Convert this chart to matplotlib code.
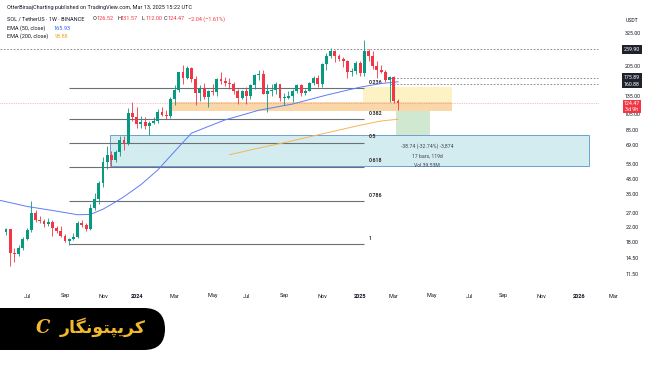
import matplotlib
matplotlib.use("Agg")
import matplotlib.pyplot as plt
import matplotlib.dates as mdates
import pandas as pd
from matplotlib.patches import Rectangle, FancyBboxPatch
from matplotlib.transforms import blended_transform_factory

plt.rcParams["font.family"] = ["Roboto", "DejaVu Sans"]

# SOL / USDT weekly candles (Binance)
FIRST_WEEK = "2023-05-29"
OPEN = [20.8, 21.6, 15.6, 15.3, 16.6, 19.0, 21.4, 27.0, 24.6, 24.1,
        23.2, 24.0, 22.0, 21.1, 19.7, 18.4, 18.9, 19.5, 23.6, 22.9,
        21.7, 28.8, 32.8, 40.9, 55.0, 60.3, 56.5, 63.0, 74.0, 70.5,
        108.0, 101.5, 93.0, 94.5, 89.5, 93.5, 97.0, 110.0, 105.5, 103.0,
        131.0, 148.0, 189.0, 176.0, 202.0, 172.0, 142.0, 153.0, 135.0, 146.0,
        144.0, 172.0, 167.0, 164.0, 160.0, 146.0, 132.0, 146.0, 137.0, 158.0,
        182.0, 185.0, 140.0, 146.0, 148.0, 160.0, 133.0, 133.0, 137.0, 146.0,
        158.0, 143.0, 147.0, 163.0, 176.0, 162.0, 212.0, 236.0, 253.0, 236.0,
        228.0, 221.0, 190.0, 192.0, 216.0, 188.0, 255.0, 238.0, 205.0, 195.0,
        190.0, 170.0, 178.0, 126.52]
HIGH = [21.9, 21.8, 16.6, 17.4, 19.4, 22.0, 32.1, 28.0, 26.0, 25.0,
        25.2, 24.6, 22.7, 22.5, 20.2, 19.2, 20.4, 24.3, 24.7, 23.4,
        30.5, 35.5, 41.9, 58.5, 68.2, 64.0, 65.0, 78.0, 78.0, 115.0,
        126.1, 117.0, 104.0, 102.5, 96.5, 102.0, 114.0, 117.5, 113.0, 135.0,
        158.0, 191.0, 210.0, 205.0, 204.0, 180.0, 158.0, 163.0, 148.0, 160.0,
        176.0, 189.0, 178.0, 176.0, 165.0, 150.0, 149.0, 154.0, 160.0, 185.0,
        194.0, 195.0, 162.0, 160.0, 165.0, 162.0, 142.0, 146.0, 150.0, 160.0,
        160.0, 150.0, 166.0, 180.0, 182.0, 215.0, 248.0, 264.0, 256.0, 245.0,
        233.0, 225.0, 201.0, 220.0, 222.0, 295.0, 261.0, 255.0, 222.0, 210.0,
        196.0, 180.0, 180.0, 131.57]
LOW = [19.9, 13.0, 13.8, 15.0, 16.2, 18.6, 20.9, 24.0, 23.5, 22.3,
       22.7, 19.6, 20.6, 19.3, 18.1, 17.4, 18.6, 19.1, 22.4, 21.0,
       21.4, 28.0, 30.6, 38.5, 50.0, 51.7, 55.0, 59.5, 64.5, 69.0,
       97.0, 88.0, 87.5, 86.0, 79.5, 92.0, 93.5, 104.0, 99.0, 101.0,
       120.0, 145.0, 160.0, 172.0, 165.0, 120.0, 128.0, 131.0, 117.0, 138.0,
       137.0, 160.0, 157.0, 150.0, 140.0, 122.0, 130.0, 122.0, 130.0, 150.0,
       170.0, 140.0, 110.0, 136.0, 140.0, 127.0, 121.0, 130.0, 126.0, 143.0,
       136.0, 138.0, 146.0, 158.0, 155.0, 155.0, 195.0, 230.0, 218.0, 220.0,
       203.0, 175.0, 181.0, 185.0, 180.0, 180.0, 222.0, 198.0, 175.0, 188.0,
       165.0, 125.0, 124.0, 112.0]
CLOSE = [21.6, 15.6, 15.3, 16.6, 19.0, 21.4, 27.0, 24.6, 24.1, 23.2,
         24.0, 22.0, 21.1, 19.7, 18.4, 18.9, 19.5, 23.6, 22.9, 21.7,
         28.8, 32.8, 40.9, 55.0, 60.3, 56.5, 63.0, 74.0, 70.5, 108.0,
         101.5, 93.0, 94.5, 89.5, 93.5, 97.0, 110.0, 105.5, 103.0, 131.0,
         148.0, 189.0, 176.0, 202.0, 172.0, 142.0, 153.0, 135.0, 146.0, 144.0,
         172.0, 167.0, 164.0, 160.0, 146.0, 132.0, 146.0, 137.0, 158.0, 182.0,
         185.0, 140.0, 146.0, 148.0, 160.0, 133.0, 133.0, 137.0, 146.0, 158.0,
         143.0, 147.0, 163.0, 176.0, 162.0, 212.0, 236.0, 253.0, 236.0, 228.0,
         221.0, 190.0, 192.0, 216.0, 188.0, 255.0, 238.0, 205.0, 195.0, 190.0,
         170.0, 178.0, 126.5, 124.47]

# moving averages, sampled off the chart
EMA50_DATES = ["2023-05-19", "2023-07-03", "2023-08-14", "2023-09-25", "2023-10-16",
               "2023-11-06", "2023-11-27", "2023-12-11", "2024-01-08", "2024-02-05",
               "2024-03-11", "2024-04-01", "2024-04-29", "2024-05-27", "2024-07-22",
               "2024-09-16", "2024-11-11", "2025-01-06", "2025-02-10", "2025-03-10"]
EMA50 = [32.2, 29.6, 28.0, 26.4, 26.5, 28.5, 31.5, 33.9, 40.0, 49.0,
         67.5, 81.5, 89.5, 98.0, 112.0, 122.0, 138.0, 154.0, 162.0, 165.93]
EMA200_DATES = ["2024-06-03", "2024-07-15", "2024-09-02", "2024-10-14",
                "2024-11-25", "2025-01-06", "2025-02-10", "2025-03-10"]
EMA200 = [60.5, 65.5, 71.5, 77.5, 84.0, 91.0, 96.5, 98.88]

# fibonacci retracement (low Sep 2023 -> high Jan 2025)
FIB_LABELS = ["0.236", "0.382", "0.5", "0.618", "0.786", "1"]
FIB_PRICES = [151.7, 99.2, 71.5, 51.3, 31.9, 17.6]
FIB_SPAN = ["2023-09-11", "2025-01-13"]

# shaded zones: (start, end, low, high)
ZONE_CYAN = ("2023-11-18", "2026-01-21", 51.8, 79.6)
ZONE_ORANGE = ("2024-02-28", "2025-06-07", 110.8, 125.6)
ZONE_YELLOW = ("2025-01-11", "2025-06-07", 125.6, 154.5)
ZONE_GREEN = ("2025-03-06", "2025-05-02", 79.6, 110.8)
RANGE_TEXT = ["-38.74 (-32.74%) -3,874", "17 bars, 119d", "Vol 39.53M"]
RANGE_TEXT_Y = [68.2, 59.2, 51.8]

AXIS_PRICES = [325, 205, 135, 105, 85, 69, 53, 43, 35, 27, 22, 18, 14.5, 11.5]
LINE_PRICES = [259.90, 175.89, 160.88]
LINE_STARTS = ["2023-05-19", "2025-02-24", "2025-02-24"]
LAST_PRICE = 124.47

TICK_DATES = ["2023-07-03", "2023-09-04", "2023-11-06", "2024-01-01", "2024-03-04",
              "2024-05-06", "2024-07-01", "2024-09-02", "2024-11-04", "2025-01-06",
              "2025-03-03", "2025-05-05", "2025-07-07", "2025-09-01", "2025-11-03",
              "2026-01-05", "2026-03-02"]
TICK_LABELS = ["Jul", "Sep", "Nov", "2024", "Mar", "May", "Jul", "Sep", "Nov", "2025",
               "Mar", "May", "Jul", "Sep", "Nov", "2026", "Mar"]

BRAND = "کریپتونگار"

UP, DOWN = "#089981", "#f23645"
TEXT = "#131722"


def d(s):
    return mdates.date2num(pd.Timestamp(s))


def shape_persian(word):
    # matplotlib does no Arabic shaping: pick joined forms, then reverse
    forms = {"ک": "\ufb8e\ufb8f\ufb90\ufb91", "ر": "\ufead\ufeae",
             "ی": "\ufbfc\ufbfd\ufbfe\ufbff", "پ": "\ufb56\ufb57\ufb58\ufb59",
             "ت": "\ufe95\ufe96\ufe97\ufe98", "و": "\ufeed\ufeee",
             "ن": "\ufee5\ufee6\ufee7\ufee8", "گ": "\ufb92\ufb93\ufb94\ufb95",
             "ا": "\ufe8d\ufe8e"}
    out = []
    for i, ch in enumerate(word):
        prev = i > 0 and len(forms[word[i - 1]]) == 4
        nxt = i < len(word) - 1 and len(forms[ch]) == 4
        out.append(forms[ch][int(prev) + 2 * int(nxt)])
    return "".join(reversed(out))


fig = plt.figure(figsize=(6.5, 3.65), dpi=100)
fig.patch.set_facecolor("white")
ax = fig.add_axes([0, 0, 1, 1])
ax.set_yscale("log")
origin = d("2024-01-01")
ax.set_xlim(origin - 227.0, origin + 852.5)
ax.set_ylim(3.304, 514.2)
ax.set_axis_off()

x = mdates.date2num(pd.date_range(FIRST_WEEK, periods=len(OPEN), freq="7D"))
colors = [UP if c >= o else DOWN for o, c in zip(OPEN, CLOSE)]

# zones
for (s, e, lo, hi), fc, ec in [(ZONE_CYAN, "#d3ecef", "#6f9fd8"),
                               (ZONE_ORANGE, "#f9d7a8", "none"),
                               (ZONE_YELLOW, "#fdf2c4", "none"),
                               (ZONE_GREEN, "#cfe8cf", "none")]:
    ax.add_patch(Rectangle((d(s), lo), d(e) - d(s), hi - lo, facecolor=fc,
                           edgecolor=ec, lw=0.7, zorder=1))

# fib levels
for lab, p in zip(FIB_LABELS, FIB_PRICES):
    ax.hlines(p, d(FIB_SPAN[0]), d(FIB_SPAN[1]), color="#6b6f7a", lw=0.8, zorder=2)
    ax.annotate(lab, (d(FIB_SPAN[1]), p), xytext=(3, 2.5), textcoords="offset points",
                fontsize=3.8, color="#333333", fontweight="bold", va="bottom")

# horizontal price lines
right_edge = origin + (598 - 136.7) / 0.6021
for p, s in zip(LINE_PRICES, LINE_STARTS):
    ax.hlines(p, d(s), right_edge, color="#787b86", lw=0.6, linestyles=(0, (2, 2)), zorder=2)
ax.hlines(LAST_PRICE, ax.get_xlim()[0], right_edge, color=DOWN, lw=0.5,
          linestyles=(0, (1, 1.5)), alpha=0.6, zorder=2)

# EMAs
ax.plot([d(s) for s in EMA50_DATES], EMA50, color="#5c7cfa", lw=0.7, zorder=3)
ax.plot([d(s) for s in EMA200_DATES], EMA200, color="#f7b553", lw=0.7, zorder=3)

# candles
ax.vlines(x, LOW, HIGH, colors=colors, lw=0.6, zorder=4)
bottoms = [min(o, c) for o, c in zip(OPEN, CLOSE)]
heights = [max(abs(c - o), 0.004 * c) for o, c in zip(OPEN, CLOSE)]
ax.bar(x, heights, bottom=bottoms, width=4.8, color=colors, zorder=5)

# range tool text
for t, p in zip(RANGE_TEXT, RANGE_TEXT_Y):
    ax.text(d("2025-04-27"), p, t, fontsize=3.7, color="#434651", ha="center", va="center", zorder=6)

# price axis labels
yb = blended_transform_factory(ax.transAxes, ax.transData)
for p in AXIS_PRICES:
    ax.text(632.5 / 650, p, f"{p:.2f}", transform=yb, fontsize=3.8, color=TEXT,
            ha="center", va="center")
for p in LINE_PRICES:
    ax.text(632 / 650, p, f"{p:.2f}", transform=yb, fontsize=3.8, color="white",
            ha="center", va="center",
            bbox=dict(boxstyle="square,pad=0.35", fc="#1e222d", ec="none"))
ax.text(632 / 650, LAST_PRICE * 1.025, f"{LAST_PRICE:.2f}\n3d 9h", transform=yb, fontsize=3.8,
        color="white", ha="center", va="top", linespacing=1.25,
        bbox=dict(boxstyle="square,pad=0.22", fc=DOWN, ec="none"))

# time axis labels
xb = blended_transform_factory(ax.transData, ax.transAxes)
for s, lab in zip(TICK_DATES, TICK_LABELS):
    ax.text(d(s), 1 - 296 / 365, lab, transform=xb, fontsize=4.0, color=TEXT,
            ha="center", va="center", fontweight="bold" if lab.isdigit() else "normal")

# overlay in pixel coordinates: legend header and logo
ov = fig.add_axes([0, 0, 1, 1], facecolor="none")
ov.set_xlim(0, 650)
ov.set_ylim(365, 0)
ov.set_axis_off()

fs = 4.0
ov.text(6.7, 7, "OtterBiraajCharting published on TradingView.com, Mar 13, 2025 15:22 UTC",
        fontsize=fs, color=TEXT, va="center")
ov.text(7.3, 19, "SOL / TetherUS · 1W · BINANCE", fontsize=fs, color=TEXT, va="center")
for xx, letter, val in [(93, "O", "126.52"), (117, "H", "131.57"),
                        (142, "L", "112.00"), (164, "C", "124.47")]:
    ov.text(xx, 19, letter, fontsize=fs, color=TEXT, va="center")
    ov.text(xx + 3.8, 19, val, fontsize=fs, color=DOWN, va="center")
ov.text(188, 19, "\u22122.04 (\u22121.61%)", fontsize=fs, color=DOWN, va="center")
ov.text(7.3, 28, "EMA (50, close)", fontsize=fs, color=TEXT, va="center")
ov.text(53, 28, "165.93", fontsize=fs, color="#2962ff", va="center")
ov.text(7.3, 36.5, "EMA (200, close)", fontsize=fs, color=TEXT, va="center")
ov.text(55, 36.5, "98.88", fontsize=fs, color="#f5a623", va="center")
ov.text(632, 21, "USDT", fontsize=3.7, color=TEXT, ha="center", va="center")

ov.add_patch(FancyBboxPatch((-30, 308), 195, 42, boxstyle="round,pad=0,rounding_size=21",
                            fc="black", ec="none"))
ov.text(43, 328, "C", fontsize=13, color="#f2b92c", fontweight="bold", style="italic",
        family="DejaVu Serif", ha="center", va="center")
ov.text(103, 327, shape_persian(BRAND), fontsize=12.5, color="#f2b92c", fontweight="bold",
        family=["DejaVu Sans"], ha="center", va="center")

fig.savefig("out.png", dpi=100, facecolor="white")
